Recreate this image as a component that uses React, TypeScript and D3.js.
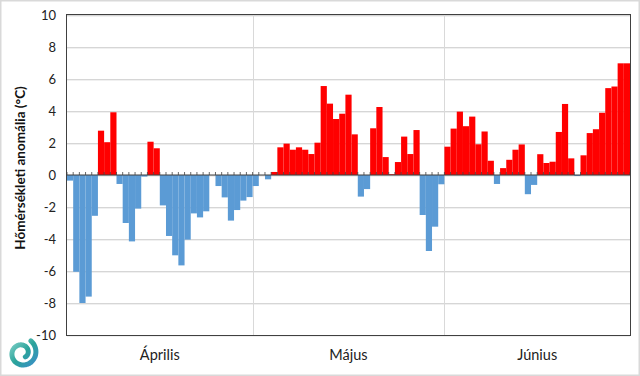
import React from "react";
import * as d3 from "d3";

const months = ["Április", "Május", "Június"];
const monthDays = [30, 31, 30];
const yTicks = [10, 8, 6, 4, 2, 0, -2, -4, -6, -8, -10];

const aprilValues = [
  -0.35, -6.05, -8.0, -7.6, -2.55, 2.77, 2.05, 3.92, -0.56, -3.0,
  -4.15, -2.1, -0.1, 2.08, 1.67, -1.9, -3.81, -5.02, -5.65, -4.04,
  -2.4, -2.65, -2.27, 0, -0.69, -1.4, -2.85, -2.19, -1.6, -1.38,
];
const mayValues = [
  -0.69, 0, -0.27, 0.19, 1.73, 1.96, 1.58, 1.73, 1.58, 1.31,
  2.02, 5.56, 4.46, 3.5, 3.83, 5.02, 2.54, -1.35, -0.88, 2.92,
  4.25, 1.12, 0.05, 0.81, 2.4, 1.31, 2.81, -2.5, -4.75, -3.23,
  -0.58,
];
const juneValues = [
  1.77, 2.9, 3.96, 3.05, 3.65, 1.92, 2.72, 0.89, -0.56, 0.43,
  0.95, 1.58, 1.91, -1.2, -0.62, 1.3, 0.75, 0.83, 2.69, 4.44,
  1.04, -0.06, 1.23, 2.62, 2.86, 3.89, 5.43, 5.53, 6.98, 6.98,
];

const values = [...aprilValues, ...mayValues, ...juneValues];

const W = 640;
const H = 376;
const left = 67;
const right = 630;
const top = 15;
const bottom = 335;

export default function App() {
  const x = d3
    .scaleBand<number>()
    .domain(d3.range(values.length))
    .range([left, right])
    .paddingInner(0)
    .paddingOuter(0);
  const y = d3.scaleLinear().domain([-10, 10]).range([bottom, top]);
  const bw = x.bandwidth();

  const monthStarts: number[] = [];
  let acc = 0;
  monthDays.forEach((d) => {
    monthStarts.push(acc);
    acc += d;
  });

  const font = "Lato, 'Open Sans', sans-serif";

  // spiral logo path
  const spiralPts: [number, number][] = [];
  for (let t = 0; t <= 1; t += 0.01) {
    const ang = -Math.PI * 0.3 + t * Math.PI * 2.6;
    const r = 15 - t * 10;
    spiralPts.push([22 + r * Math.cos(ang), 353 + r * Math.sin(ang)]);
  }
  const spiral = d3.line().curve(d3.curveCatmullRom)(spiralPts) || "";

  return (
    <svg
      width={W}
      height={H}
      style={{ position: "absolute", left: 0, top: 0, background: "#fff" }}
    >
      <defs>
        <linearGradient id="lg" x1="0" y1="0" x2="1" y2="1">
          <stop offset="0" stopColor="#7fd0c8" />
          <stop offset="0.5" stopColor="#2aa39a" />
          <stop offset="1" stopColor="#3b8fc7" />
        </linearGradient>
      </defs>
      <rect x={0.5} y={0.5} width={W - 1} height={H - 1} fill="#fff" stroke="#d9d9d9" strokeWidth={2} />

      {/* gridlines */}
      {yTicks.map((t) => (
        <g key={"g" + t}>
          <line x1={left} x2={right} y1={Math.round(y(t)) + 0.5} y2={Math.round(y(t)) + 0.5} stroke="#d6d6d6" />
          <line x1={left} x2={right} y1={Math.round(y(t)) + 1.5} y2={Math.round(y(t)) + 1.5} stroke="#f0f0f0" />
        </g>
      ))}
      {/* month dividers */}
      {monthStarts.slice(1).map((s) => (
        <line
          key={"m" + s}
          x1={Math.round(x(s) as number) + 0.5}
          x2={Math.round(x(s) as number) + 0.5}
          y1={top}
          y2={bottom}
          stroke="#d9d9d9"
        />
      ))}

      {/* bars */}
      {values.map((v, i) => {
        const x0 = x(i) as number;
        const y0 = y(Math.max(0, v));
        const h = Math.abs(y(v) - y(0));
        const c = v >= 0 ? "#ff0000" : "#5b9bd5";
        return <rect key={i} x={x0} y={y0} width={bw} height={h} fill={c} />;
      })}

      {/* zero axis with ticks */}
      <line x1={left} x2={right} y1={y(0)} y2={y(0)} stroke="#404040" strokeWidth={1.2} />
      {d3.range(values.length + 1).map((i) => {
        const xx = left + i * bw;
        return <line key={"t" + i} x1={xx} x2={xx} y1={y(0) - 3} y2={y(0)} stroke="#404040" strokeWidth={0.8} />;
      })}

      {/* plot border */}
      <rect x={left - 0.5} y={top - 0.5} width={right - left + 1} height={bottom - top + 1} fill="none" stroke="#404040" strokeWidth={1} />

      {/* y tick labels */}
      {yTicks.map((t) => (
        <text
          key={"l" + t}
          x={56}
          y={y(t)}
          dy="0.35em"
          textAnchor="end"
          fontFamily={font}
          fontSize={13}
          fill="#222"
        >
          {t}
        </text>
      ))}

      {/* month labels */}
      {months.map((m, i) => {
        const s = monthStarts[i];
        const cx = (x(s) as number) + (monthDays[i] * bw) / 2;
        return (
          <text key={m} x={cx} y={355} dy="0.35em" textAnchor="middle" fontFamily={font} fontSize={14.5} fill="#222">
            {m}
          </text>
        );
      })}

      {/* y title */}
      <text
        transform={`translate(20,168) rotate(-90)`}
        textAnchor="middle"
        dy="0.35em"
        fontFamily={font}
        fontSize={13.5}
        fontWeight="bold"
        fill="#111"
      >
        Hőmérsékleti anomália (°C)
      </text>

      {/* logo */}
      <path d={spiral} fill="none" stroke="url(#lg)" strokeWidth={5} strokeLinecap="round" />
    </svg>
  );
}
